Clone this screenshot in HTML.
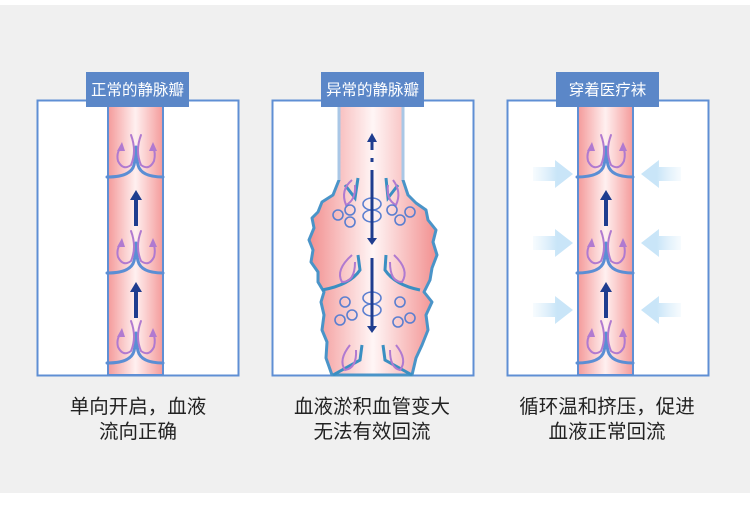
<!DOCTYPE html>
<html><head><meta charset="utf-8"><style>
body{margin:0;width:750px;height:511px;background:#fff;overflow:hidden}
svg{display:block}
text{font-family:"Liberation Sans","Noto Sans CJK SC",sans-serif}
</style></head><body>
<svg width="750" height="511" viewBox="0 0 750 511" xmlns="http://www.w3.org/2000/svg">
<defs>
<linearGradient id="vg" x1="0" x2="1" y1="0" y2="0">
<stop offset="0" stop-color="#f49a9a"/><stop offset="0.5" stop-color="#fff0f0"/><stop offset="1" stop-color="#f49a9a"/>
</linearGradient>
<linearGradient id="bg2" x1="0" x2="1" y1="0" y2="0">
<stop offset="0" stop-color="#f28f8f"/><stop offset="0.5" stop-color="#fff6f6"/><stop offset="1" stop-color="#f28f8f"/>
</linearGradient>
<linearGradient id="ar" x1="0" x2="1"><stop offset="0" stop-color="#d6ecfa" stop-opacity="0.2"/><stop offset="0.6" stop-color="#c9e5f8"/></linearGradient>
<linearGradient id="al" x1="1" x2="0"><stop offset="0" stop-color="#d6ecfa" stop-opacity="0.2"/><stop offset="0.6" stop-color="#c9e5f8"/></linearGradient>
<g id="valve" fill="none" stroke-linecap="round">
<path d="M0 30 Q24 30 27 18 Q29 10 29 0 M29 0 Q29 10 31 18 Q34 30 56 30" stroke="#5b8ed4" stroke-width="3"/>
<path d="M24 -12 Q30 4 24 18 Q16 24 11 14 Q9 6 14 0" stroke="#b07ad0" stroke-width="2"/>
<path d="M34 -12 Q28 4 34 18 Q42 24 47 14 Q49 6 46 0" stroke="#b07ad0" stroke-width="2"/>
<polygon points="10,4 15,-5 18,4" fill="#b07ad0"/>
<polygon points="42,4 46,-5 50,4" fill="#b07ad0"/>
</g>
<g id="up"><rect x="-2" y="4" width="4" height="28" fill="#1f3d8f"/><polygon points="-6,6 0,-4 6,6" fill="#1f3d8f"/></g>
</defs>
<rect x="0" y="5" width="750" height="488" fill="#f0f0f0"/>

<!-- Panel 1 -->
<rect x="37.5" y="100.5" width="201" height="275" fill="#fff" stroke="#5f8fd4" stroke-width="2"/>
<rect x="108" y="101" width="55" height="274" fill="url(#vg)" stroke="#5f8fd4" stroke-width="2"/>
<use href="#valve" x="107" y="147"/><use href="#valve" x="107" y="243"/><use href="#valve" x="107" y="333"/>
<use href="#up" x="136" y="194"/><use href="#up" x="136" y="286"/>
<rect x="86" y="72" width="103" height="35" fill="#5b87c8"/>
<text x="137.5" y="95" font-size="15.5" fill="#fff" text-anchor="middle">正常的静脉瓣</text>

<!-- Panel 2 -->
<rect x="272.5" y="100.5" width="201" height="275" fill="#fff" stroke="#5f8fd4" stroke-width="2"/>
<path d="M339 101 L339 180 L333 195 L322 202 L318 212 L312 218 L314 228 L309 240 L313 250 L311 262 L318 272 L318 282 L324 292 L321 302 L324 315 L322 330 L327 342 L326 358 L332 375 L412 375 L416 358 L422 345 L428 330 L426 315 L432 302 L424 292 L430 280 L432 268 L437 255 L433 242 L436 230 L428 220 L426 210 L416 203 L408 195 L403 180 L403 101 Z" fill="url(#bg2)" stroke="#4a94c8" stroke-width="3" stroke-linejoin="round"/>
<path d="M339 101 L339 180 M403 101 L403 180" stroke="#a9c7e6" stroke-width="3"/>
<path d="M322 290 Q350 285 360 270 L358 255 M420 290 Q395 285 385 270 L386 255 M333 375 L360 360 L362 345 M412 375 L385 360 L383 345 M345 185 L355 198 L358 178 M398 185 L388 198 L386 178" fill="none" stroke="#3a8fc2" stroke-width="3"/>
<g fill="none" stroke="#b07ad0" stroke-width="2">
<path d="M352 180 Q340 190 346 205 Q356 200 355 185"/><path d="M393 180 Q402 192 396 205 Q386 200 388 185"/>
<path d="M352 255 Q335 270 342 282 Q355 282 355 262"/><path d="M394 255 Q410 270 402 282 Q390 282 390 262"/>
<path d="M350 345 Q338 360 345 370 Q357 368 356 350"/><path d="M396 345 Q408 360 400 370 Q390 368 390 350"/>
</g>
<g fill="none" stroke="#5b7fd0" stroke-width="1.6">
<circle cx="338" cy="215" r="5"/><circle cx="350" cy="210" r="5"/><circle cx="350" cy="222" r="5"/><circle cx="392" cy="210" r="5"/><circle cx="400" cy="220" r="5"/><circle cx="410" cy="212" r="5"/>
<ellipse cx="372" cy="204" rx="9" ry="6"/><ellipse cx="372" cy="216" rx="9" ry="6"/><ellipse cx="372" cy="298" rx="9" ry="6"/><ellipse cx="372" cy="310" rx="9" ry="6"/>
<circle cx="345" cy="302" r="5"/><circle cx="340" cy="320" r="5"/><circle cx="352" cy="315" r="5"/><circle cx="400" cy="302" r="5"/><circle cx="410" cy="318" r="5"/><circle cx="398" cy="322" r="5"/>
</g>
<g stroke="#1f3d8f" stroke-width="3">
<line x1="372" y1="140" x2="372" y2="150"/><line x1="372" y1="158" x2="372" y2="162"/><line x1="372" y1="170" x2="372" y2="240"/><line x1="372" y1="258" x2="372" y2="328"/>
</g>
<polygon points="367,142 372,133 377,142" fill="#1f3d8f"/><polygon points="367,238 372,245 377,238" fill="#1f3d8f"/><polygon points="367,326 372,333 377,326" fill="#1f3d8f"/>
<rect x="321" y="72" width="103" height="35" fill="#5b87c8"/>
<text x="372.5" y="95" font-size="15.5" fill="#fff" text-anchor="middle">异常的静脉瓣</text>

<!-- Panel 3 -->
<rect x="507.5" y="100.5" width="201" height="275" fill="#fff" stroke="#5f8fd4" stroke-width="2"/>
<rect x="578" y="101" width="55" height="274" fill="url(#vg)" stroke="#5f8fd4" stroke-width="2"/>
<use href="#valve" x="577" y="147"/><use href="#valve" x="577" y="243"/><use href="#valve" x="577" y="333"/>
<use href="#up" x="606" y="194"/><use href="#up" x="606" y="286"/>
<g>
<polygon points="533,167 555,167 555,160 573,174 555,188 555,181 533,181" fill="url(#ar)"/>
<polygon points="533,236 555,236 555,229 573,243 555,257 555,250 533,250" fill="url(#ar)"/>
<polygon points="533,303 555,303 555,296 573,310 555,324 555,317 533,317" fill="url(#ar)"/>
<polygon points="681,167 659,167 659,160 641,174 659,188 659,181 681,181" fill="url(#al)"/>
<polygon points="681,236 659,236 659,229 641,243 659,257 659,250 681,250" fill="url(#al)"/>
<polygon points="681,303 659,303 659,296 641,310 659,324 659,317 681,317" fill="url(#al)"/>
</g>
<rect x="556" y="72" width="103" height="35" fill="#5b87c8"/>
<text x="607.5" y="95" font-size="15.5" fill="#fff" text-anchor="middle">穿着医疗袜</text>

<!-- captions -->
<g font-size="19.5" fill="#222" text-anchor="middle">
<text x="138" y="413">单向开启，血液</text><text x="138" y="438">流向正确</text>
<text x="372" y="413">血液淤积血管变大</text><text x="372" y="438">无法有效回流</text>
<text x="607" y="413">循环温和挤压，促进</text><text x="607" y="438">血液正常回流</text>
</g>
</svg>
</body></html>
